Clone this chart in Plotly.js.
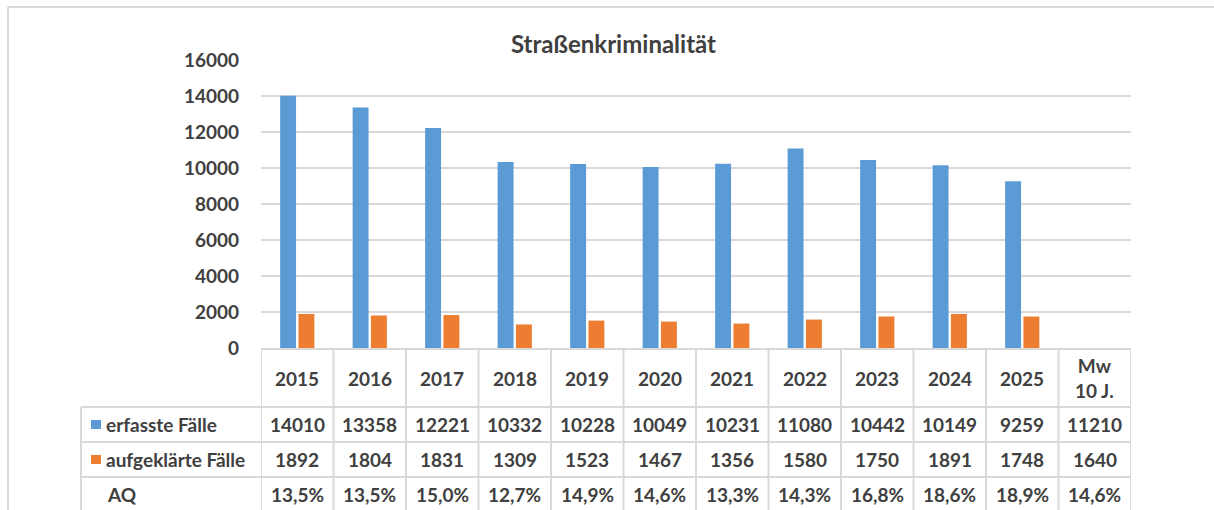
<!DOCTYPE html>
<html>
<head>
<meta charset="utf-8">
<script src="https://cdn.plot.ly/plotly-3.0.1.min.js"></script>
<style>html,body{margin:0;padding:0;background:#fff;}#chart{width:1214px;height:510px;}</style>
</head>
<body>
<div id="chart"></div>
<script>
// ---- data ----
const years = ["2015","2016","2017","2018","2019","2020","2021","2022","2023","2024","2025"];
const erfasst = [14010,13358,12221,10332,10228,10049,10231,11080,10442,10149,9259];
const aufgeklaert = [1892,1804,1831,1309,1523,1467,1356,1580,1750,1891,1748];
const aq = [13.5,13.5,15.0,12.7,14.9,14.6,13.3,14.3,16.8,18.6,18.9];
const mwLabel = "Mw<br>10 J.";
const mwErfasst = 11210;
const mwAufgeklaert = 1640;
const mwAQ = 14.6;
const seriesNames = ["erfasste Fälle","aufgeklärte Fälle","AQ"];
const chartTitle = "Straßenkriminalität";

// ---- layout helpers ----
const W = 1214, H = 510;
const L = 261, R = 1131, T = 60, B = 348;
const px = v => (v - L) / (R - L);
const py = v => (B - v) / (B - T);
const cats = years.concat([mwLabel]);
const blue = "#5B9BD5", orange = "#ED7D31", grid = "#D9D9D9", txt = "#404040";
const fam = "Lato, 'Liberation Sans', Arial, sans-serif";
const tfont = {family: fam, size: 19, color: txt, weight: 700};

const traces = [
  {type: "bar", name: seriesNames[0], x: years, y: erfasst, marker: {color: blue}, hoverinfo: "x+y"},
  {type: "bar", name: seriesNames[1], x: years, y: aufgeklaert, marker: {color: orange}, hoverinfo: "x+y"}
];

const shapes = [];
const annotations = [];
const line = {color: grid, width: 2};

// outer chart border
shapes.push({type: "line", xref: "paper", yref: "paper", x0: px(8), x1: px(1230), y0: py(7), y1: py(7), line: line});
shapes.push({type: "line", xref: "paper", yref: "paper", x0: px(8), x1: px(8), y0: py(7), y1: py(530), line: line});

// table grid
const rowTop = 349, rowLines = [407, 442, 477], tableBottom = 530, tableLeft = 81;
shapes.push({type: "line", xref: "paper", yref: "paper", x0: px(L), x1: px(R), y0: py(rowTop), y1: py(rowTop), line: line});
rowLines.forEach(r => shapes.push({type: "line", xref: "paper", yref: "paper", x0: px(tableLeft), x1: px(R), y0: py(r), y1: py(r), line: line}));
shapes.push({type: "line", xref: "paper", yref: "paper", x0: px(tableLeft), x1: px(tableLeft), y0: py(rowLines[0]), y1: py(tableBottom), line: line});
for (let i = 0; i <= cats.length; i++) {
  shapes.push({type: "line", xref: "x", yref: "paper", x0: i - 0.5, x1: i - 0.5, y0: py(rowTop), y1: py(tableBottom), line: line});
}

// legend keys
shapes.push({type: "rect", xref: "paper", yref: "paper", x0: px(91), x1: px(101), y0: py(420), y1: py(429), fillcolor: blue, line: {width: 0}});
shapes.push({type: "rect", xref: "paper", yref: "paper", x0: px(91), x1: px(101), y0: py(455), y1: py(464), fillcolor: orange, line: {width: 0}});

// row labels
const rowCenters = [424.5, 459.5, 495];
seriesNames.forEach((n, i) => {
  annotations.push({xref: "paper", yref: "paper", x: px(i === 2 ? 105 : 104), y: py(rowCenters[i]), xanchor: "left", yanchor: "middle", text: n, showarrow: false, font: tfont});
});

// header + values (x given as category index)
const fmtPct = v => v.toFixed(1).replace(".", ",") + "%";
const colE = erfasst.concat([mwErfasst]);
const colA = aufgeklaert.concat([mwAufgeklaert]);
const colQ = aq.concat([mwAQ]);
cats.forEach((c, i) => {
  annotations.push({xref: "x", yref: "paper", x: i, y: py(378), xanchor: "center", yanchor: "middle", text: c, showarrow: false, font: tfont});
  annotations.push({xref: "x", yref: "paper", x: i, y: py(rowCenters[0]), xanchor: "center", yanchor: "middle", text: String(colE[i]), showarrow: false, font: tfont});
  annotations.push({xref: "x", yref: "paper", x: i, y: py(rowCenters[1]), xanchor: "center", yanchor: "middle", text: String(colA[i]), showarrow: false, font: tfont});
  annotations.push({xref: "x", yref: "paper", x: i, y: py(rowCenters[2]), xanchor: "center", yanchor: "middle", text: fmtPct(colQ[i]), showarrow: false, font: tfont});
});

const layout = {
  width: W, height: H,
  margin: {l: L, r: W - R, t: T, b: H - B, pad: 0},
  paper_bgcolor: "#fff", plot_bgcolor: "#fff",
  showlegend: false,
  barmode: "group", bargap: 0.495, bargroupgap: 0.13,
  title: {text: chartTitle, font: {family: fam, size: 24, color: txt, weight: 700}, xref: "paper", x: px(613.5), xanchor: "center", yref: "container", y: 1 - 45 / H, yanchor: "middle"},
  xaxis: {type: "category", categoryorder: "array", categoryarray: cats, range: [-0.5, cats.length - 0.5], showticklabels: false, showgrid: false, zeroline: false, showline: false, ticks: "", fixedrange: true},
  yaxis: {range: [0, 16000], dtick: 2000, tick0: 0, tickformat: "d", showgrid: true, gridcolor: grid, gridwidth: 1.5, zeroline: false, showline: false, ticks: "", ticklabelstandoff: 21, tickfont: tfont, fixedrange: true},
  shapes: shapes,
  annotations: annotations
};

Plotly.newPlot("chart", traces, layout, {displayModeBar: false, staticPlot: true});
</script>
</body>
</html>
